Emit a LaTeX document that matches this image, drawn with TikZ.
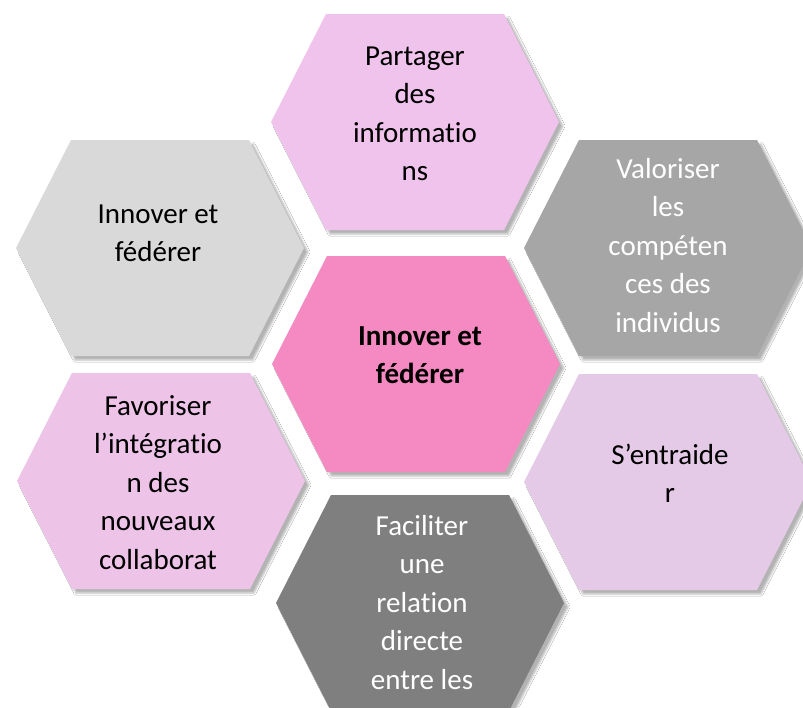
\documentclass[tikz,border=0pt]{standalone}
\usepackage{fontspec}
\setmainfont{Carlito}[Ligatures=NoCommon]
\usetikzlibrary{shadows.blur}
\definecolor{hexlilac}{HTML}{EFC3EC}
\definecolor{hexlilacb}{HTML}{EDC3E8}
\definecolor{hexlav}{HTML}{E4CAE6}
\definecolor{hexpink}{HTML}{F48AC1}
\definecolor{hexlgray}{HTML}{D9D9D9}
\definecolor{hexmgray}{HTML}{A6A6A6}
\definecolor{hexdgray}{HTML}{7F7F7F}
\tikzset{
  hexshape/.style={blur shadow={shadow xshift=4pt, shadow yshift=-4pt, shadow blur radius=2pt, shadow opacity=30}},
  hextext/.style={align=center, inner sep=0pt, font=\fontsize{29}{38.5}\selectfont,
    execute at begin node=\strut, execute at end node=\strut},
}
\newcommand\hexagonat[3]{%
  \path[fill=#3, hexshape] (#1-144,#2) -- (#1-89,#2-108) -- (#1+89,#2-108) -- (#1+144,#2)
     -- (#1+89,#2+108) -- (#1-89,#2+108) -- cycle;}
\begin{document}
\begin{tikzpicture}[x=1pt,y=-1pt]
\useasboundingbox (0,0) rectangle (803,707);
\clip (0,0) rectangle (803,707);
\fill[white] (0,0) rectangle (803,707);
\hexagonat{415}{122}{hexlilac}
\hexagonat{160}{248}{hexlgray}
\hexagonat{668}{248}{hexmgray}
\hexagonat{416}{364}{hexpink}
\hexagonat{161}{481}{hexlilacb}
\hexagonat{668}{482}{hexlav}
\hexagonat{420}{603}{hexdgray}
\node[hextext] (partager) at (415,119.5) {Partager\\des\\informatio\\ns};
\node[hextext] (innover) at (158,239) {Innover et\\fédérer};
\node[hextext, text=white] (valoriser) at (668,250.8) {Valoriser\\les\\compéten\\ces des\\individus};
\node[hextext, font=\fontsize{29}{38.5}\selectfont\bfseries] (centre) at (420,361) {Innover et\\fédérer};
\node[hextext] (favoriser) at (158,487.8) {Favoriser\\l’intégratio\\n des\\nouveaux\\collaborat};
\node[hextext] (entraider) at (670,478.8) {S’entraide\\r};
\node[hextext, text=white] (faciliter) at (422,607.8) {Faciliter\\une\\relation\\directe\\entre les};
\end{tikzpicture}
\end{document}
